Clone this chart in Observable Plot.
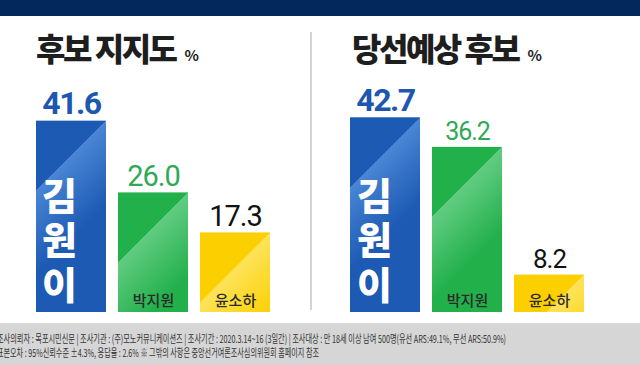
<!DOCTYPE html>
<html><head><meta charset="utf-8">
<script src="https://cdn.jsdelivr.net/npm/d3@7"></script>
<script src="https://cdn.jsdelivr.net/npm/@observablehq/plot@0.6"></script>
<style>
html,body{margin:0;padding:0;background:#fff;}
#root{position:relative;width:640px;height:365px;overflow:hidden;background:#fff;font-family:"Noto Sans CJK KR",sans-serif;}
.band{position:absolute;left:0;top:0;width:640px;height:16px;background:#03295c;}
.title{position:absolute;top:27px;font-weight:900;font-size:32px;letter-spacing:-2.5px;line-height:40px;color:#1e1e1e;white-space:nowrap;}
.title .pct{font-size:15px;font-weight:700;letter-spacing:0;margin-left:9px;}
.divider{position:absolute;left:310px;top:32px;width:2px;height:278px;background:#d4d4d4;}
.panel{position:absolute;top:0;}
.footer{position:absolute;left:0;top:323px;width:640px;height:42px;background:#d6d6d6;}
.footer svg{display:block;}
</style></head>
<body>
<div id="root">
  <div class="band"></div>
  <div class="divider"></div>
  <div class="title" id="t0" style="left:36px"></div>
  <div class="title" id="t1" style="left:352px"></div>
  <div class="panel" id="p0" style="left:0"></div>
  <div class="panel" id="p1" style="left:320px"></div>
  <div class="footer" id="foot"></div>
</div>
<script>
const candidates = ["김원이", "박지원", "윤소하"];
const supportValues = [41.6, 26.0, 17.3];
const winValues = [42.7, 36.2, 8.2];
const panelTitles = ["후보 지지도", "당선예상 후보"];
const unitLabel = "%";
const footnotes = [
  "조사의뢰자 : 목포시민신문  |  조사기관 : (주)모노커뮤니케이션즈  |  조사기간 : 2020.3.14~16 (3일간) | 조사대상 : 만 18세 이상 남여 500명(유선 ARS:49.1%, 무선 ARS:50.9%)",
  "표본오차 : 95%신뢰수준 ±4.3%, 응답율 : 2.6% ※ 그밖의 사항은 중앙선거여론조사심의위원회 홈페이지 참조"
];

const barColors = ["#1c5ab4", "#22b04b", "#fcd000"];
const barLights = ["#4a86d4", "#62cc82", "#fde35a"];
const valueColors = ["#1d57b0", "#2fa955", "#111111"];

// titles
panelTitles.forEach((t, i) => {
  const el = document.getElementById("t" + i);
  el.textContent = t;
  const s = document.createElement("span");
  s.className = "pct";
  s.textContent = unitLabel;
  el.appendChild(s);
});

function panel(values, id, opts) {
  const data = candidates.map((name, i) => ({name, value: values[i], i}));
  const plot = Plot.plot({
    width: 320, height: 365,
    marginLeft: opts.marginLeft, marginRight: opts.marginRight,
    marginTop: opts.marginTop, marginBottom: 53,
    x: {domain: candidates, paddingInner: 0.15, paddingOuter: 0, axis: null},
    y: {domain: [0, 50], axis: null},
    color: {type: "identity"},
    style: {background: "transparent", overflow: "visible"},
    marks: [
      Plot.barY(data, {x: "name", y: "value", fill: d => barColors[d.i]}),
      Plot.text(data.filter(d => d.i === 0), {
        x: "name", y: "value", text: d => d.value.toFixed(1),
        lineAnchor: "bottom", dy: -7, fill: d => valueColors[d.i],
        fontSize: 32, fontWeight: 700, fontFamily: "Roboto"
      }),
      Plot.text(data.filter(d => d.i > 0), {
        x: "name", y: "value", text: d => d.value.toFixed(1),
        lineAnchor: "bottom", dy: -7, fill: d => valueColors[d.i],
        fontSize: d => opts.sizes[d.i], fontFamily: "Roboto"
      }),
      Plot.text(data.filter(d => d.i === 0), {
        x: "name", frameAnchor: "bottom", text: d => d.name.split("").join("\n"),
        lineAnchor: "bottom", lineHeight: 1.16, dy: -14, dx: opts.nameDx,
        fill: "white", fontSize: 38, fontWeight: 900, fontFamily: "Noto Sans CJK KR"
      }),
      Plot.text(data.filter(d => d.i > 0), {
        x: "name", frameAnchor: "bottom", text: "name",
        lineAnchor: "bottom", dy: -7,
        fill: "#2a2a2a", fontSize: 15, fontWeight: 500, fontFamily: "Noto Sans CJK KR"
      })
    ]
  });
  const svg = d3.select(plot);
  const textGroups = svg.selectAll("g[aria-label='text']").nodes();
  if (textGroups[0]) d3.select(textGroups[0]).selectAll("text").style("letter-spacing", "-1.5px");
  if (textGroups[1]) d3.select(textGroups[1]).selectAll("text").style("letter-spacing", "-1px");
  const defs = svg.insert("defs", ":first-child");
  svg.selectAll("rect").filter(function() { return this.hasAttribute("height"); }).each(function(_, k) {
    const r = d3.select(this);
    const x = +r.attr("x"), y = +r.attr("y"), w = +r.attr("width");
    if (!isFinite(x) || !isFinite(y) || !isFinite(w) || k > 2) return;
    const gid = `g-${id}-${k}`;
    const L = 42;
    const g = defs.append("linearGradient").attr("id", gid)
      .attr("gradientUnits", "userSpaceOnUse")
      .attr("x1", x + w).attr("y1", y).attr("x2", x + w + L).attr("y2", y + L);
    g.append("stop").attr("offset", 0).attr("stop-color", barColors[k]);
    g.append("stop").attr("offset", 0.001).attr("stop-color", barLights[k]);
    g.append("stop").attr("offset", 1).attr("stop-color", barColors[k]);
    r.attr("fill", `url(#${gid})`);
  });
  document.getElementById(id).appendChild(plot);
}

panel(supportValues, "p0", {marginLeft: 36, marginRight: 50, marginTop: 82, sizes: [32, 29, 29], nameDx: -12});
panel(winValues, "p1", {marginLeft: 30, marginRight: 56, marginTop: 84, sizes: [32, 25, 26], nameDx: -11});

// footer
const fsvg = d3.select("#foot").append("svg").attr("width", 640).attr("height", 42);
const lens = [509, 322];
const ys = [20, 34];
footnotes.forEach((t, i) => {
  fsvg.append("text").attr("x", -3).attr("y", ys[i])
    .attr("textLength", lens[i]).attr("lengthAdjust", "spacingAndGlyphs")
    .attr("font-family", "Noto Sans CJK KR").attr("font-size", 11)
    .attr("fill", "#333333").text(t);
});
</script>
</body></html>
